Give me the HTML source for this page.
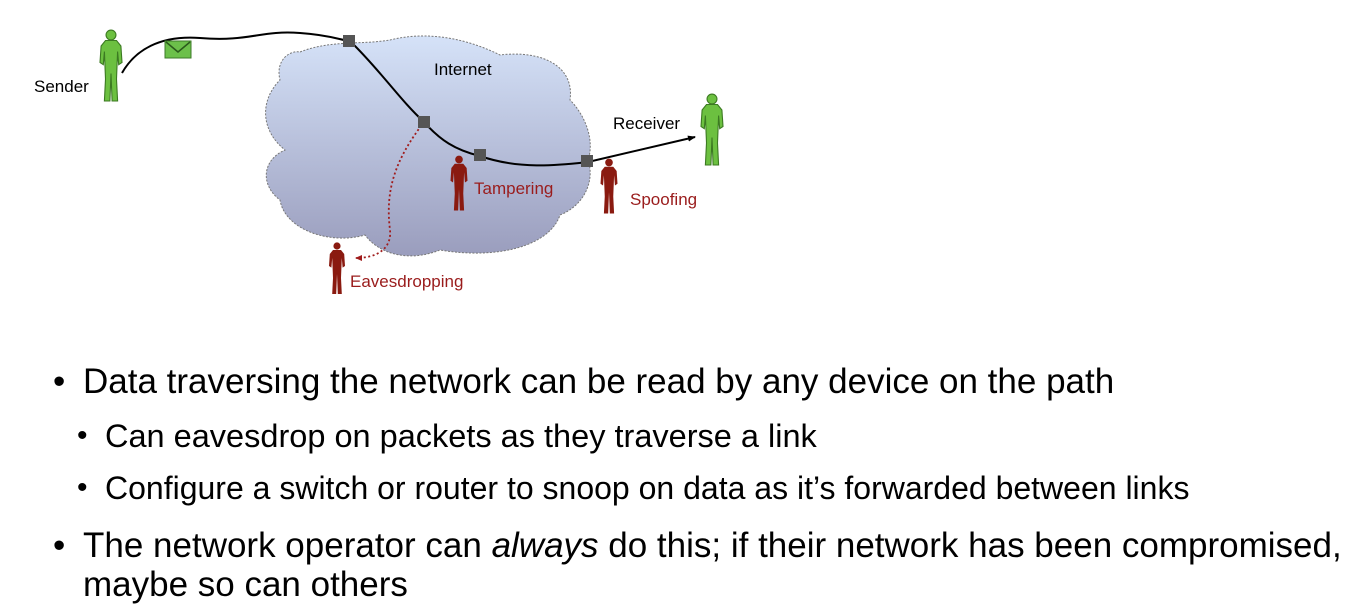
<!DOCTYPE html>
<html><head><meta charset="utf-8"><style>
html,body{margin:0;padding:0;background:#fff;width:1365px;height:612px;overflow:hidden;font-family:"Liberation Sans",Arial,sans-serif}
.t{position:absolute;white-space:nowrap;color:#000}
.b{position:absolute;color:#000}
</style></head><body>
<svg width="1365" height="612" style="position:absolute;left:0;top:0">
<defs>
<linearGradient id="g" x1="0" y1="0" x2="0" y2="1"><stop offset="0" stop-color="#d5e2f8"/><stop offset="1" stop-color="#9a9dbd"/></linearGradient>
<marker id="ar" markerWidth="8" markerHeight="6" refX="7" refY="3" orient="auto" markerUnits="userSpaceOnUse"><path d="M0,0 L8,3 L0,6z" fill="#000"/></marker>
<marker id="ar2" markerWidth="7" markerHeight="6" refX="6" refY="3" orient="auto" markerUnits="userSpaceOnUse"><path d="M0,0 L7,3 L0,6z" fill="#a01c1c"/></marker>
<g id="p"><circle cx="0" cy="-30" r="4.5"/><path d="M-5,-25 L5,-25 L9,-20 L10,-5 L7,-3 L6,-15 L5,10 L6,30 L1,30 L0,5 L-1,30 L-6,30 L-5,10 L-6,-15 L-7,-3 L-10,-5 L-9,-20z"/></g>
</defs>
<path d="M300,52 C330,40 360,45 390,40 C430,30 470,40 500,55 C540,50 575,65 570,100 C585,115 595,140 588,160 C595,180 585,205 560,215 C550,245 500,260 440,250 C410,262 380,255 365,235 C330,245 285,230 280,200 C260,185 262,160 285,150 C260,130 260,100 280,80 C275,60 290,50 300,52z" fill="url(#g)" stroke="#777" stroke-dasharray="2,1.5" stroke-width="1"/>
<path d="M122,73 C135,50 160,35 200,38 C250,42 260,30 300,33 C330,35 340,40 350,41 C380,70 400,100 424,122 C440,140 455,150 480,156 C520,170 560,165 588,162 L695,137" fill="none" stroke="#000" stroke-width="2" marker-end="url(#ar)"/>
<path d="M424,122 C395,160 385,190 390,230 C392,250 375,258 356,258" fill="none" stroke="#a01c1c" stroke-width="1.8" stroke-dasharray="2,2.5" marker-end="url(#ar2)"/>
<g fill="#555"><rect x="343" y="35" width="12" height="12"/><rect x="418" y="116" width="12" height="12"/><rect x="474" y="149" width="12" height="12"/><rect x="581" y="155" width="12" height="12"/></g>
<rect x="165" y="41" width="26" height="17" fill="#6cc04a" stroke="#3d7a28"/><path d="M166,42 L178,52 L190,42" fill="none" stroke="#2b5a1c" stroke-width="1.5"/>
<g fill="#6cc040" stroke="#3c7a22" stroke-width="1"><use href="#p" transform="translate(111,68) scale(1.1)"/><use href="#p" transform="translate(712,132) scale(1.1)"/></g>
<g fill="#8a1a10"><use href="#p" transform="translate(459,185) scale(0.85)"/><use href="#p" transform="translate(609,188) scale(0.85)"/><use href="#p" transform="translate(337,270) scale(0.8)"/></g>
</svg>
<div class="t" style="left:434px;top:60px;font-size:17px">Internet</div>
<div class="t" style="left:34px;top:77px;font-size:17px">Sender</div>
<div class="t" style="left:613px;top:114px;font-size:17px">Receiver</div>
<div class="t" style="left:474px;top:179px;font-size:17px;color:#9a1c1c">Tampering</div>
<div class="t" style="left:630px;top:190px;font-size:17px;color:#9a1c1c">Spoofing</div>
<div class="t" style="left:350px;top:272px;font-size:17px;color:#9a1c1c">Eavesdropping</div>

<div class="b" style="left:53px;top:362px;font-size:35px">•</div>
<div class="t" style="left:83px;top:362px;font-size:35px">Data traversing the network can be read by any device on the path</div>
<div class="b" style="left:77px;top:419px;font-size:30px">•</div>
<div class="t" style="left:105px;top:418px;font-size:32.5px">Can eavesdrop on packets as they traverse a link</div>
<div class="b" style="left:77px;top:471px;font-size:30px">•</div>
<div class="t" style="left:105px;top:470px;font-size:32px">Configure a switch or router to snoop on data as it’s forwarded between links</div>
<div class="b" style="left:53px;top:526px;font-size:35px">•</div>
<div class="t" style="left:83px;top:526px;font-size:35px">The network operator can <i>always</i> do this; if their network has been compromised,</div>
<div class="t" style="left:83px;top:565px;font-size:35px">maybe so can others</div>
</body></html>
